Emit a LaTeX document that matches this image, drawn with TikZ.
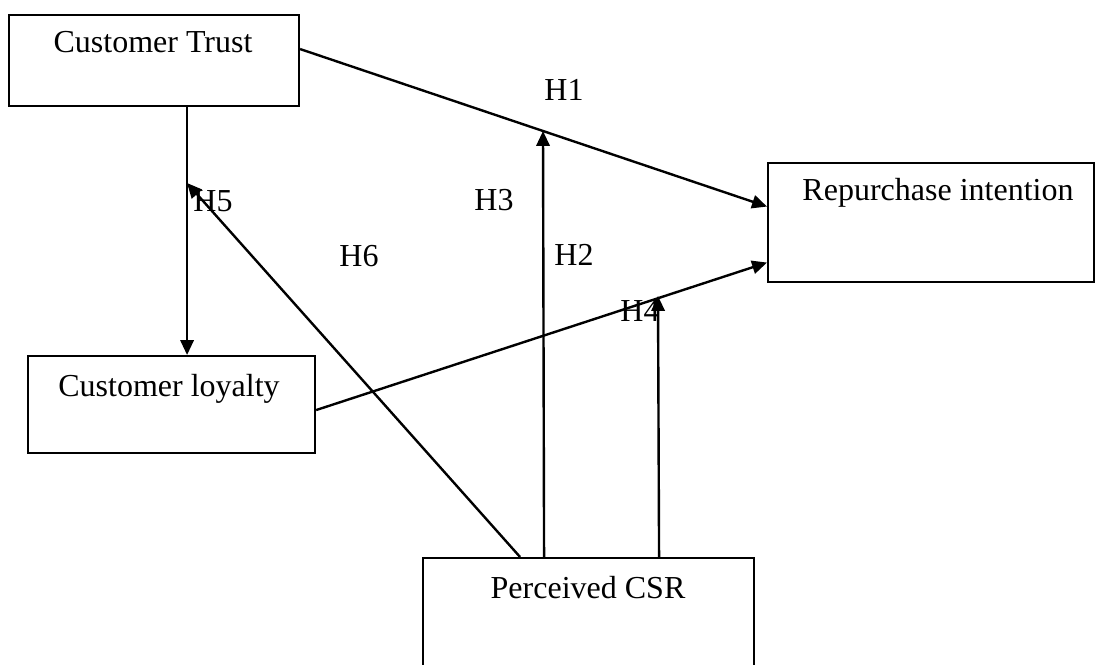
\documentclass[tikz,border=0pt]{standalone}
\usepackage{fontspec}
\setmainfont{Liberation Serif}
\usetikzlibrary{arrows.meta}
\begin{document}
\begin{tikzpicture}[x=0.375pt,y=-0.375pt,
  box/.style={draw,line width=0.8pt,rectangle,inner sep=0pt,anchor=north west},
  txt/.style={anchor=base,inner sep=0pt,font=\fontsize{12pt}{14pt}\selectfont},
  arr/.style={line width=0.9pt,-{Triangle[length=5.6pt,width=5pt]}},
  ln/.style={line width=0.9pt}]
\useasboundingbox (0,0) rectangle (1095,665);
\clip (0,0) rectangle (1095,665);
% boxes
\node[box,minimum width=290*0.375pt,minimum height=91*0.375pt] (trust) at (8,14) {};
\node[box,minimum width=287*0.375pt,minimum height=97*0.375pt] (loyal) at (27,355) {};
\node[box,minimum width=326*0.375pt,minimum height=119*0.375pt] (rep) at (767,162) {};
\node[box,minimum width=331*0.375pt,minimum height=130*0.375pt] (csr) at (422,557) {};
% box texts
\node[txt] (trustT) at (153,53) {Customer Trust};
\node[txt] (loyalT) at (169,397) {Customer loyalty};
\node[txt] (repT) at (938,201) {Repurchase intention};
\node[txt] (csrT) at (588,598) {Perceived CSR};
% tips on lines
\coordinate (h2tip) at (543,131);
\coordinate (h4tip) at (658,296);
\coordinate (h6tip) at (187,183);
% connectors
\draw[arr] ([shift={(0,-11.5)}]trust.east) -- ([shift={(0,-16)}]rep.west);
\draw[arr] ([shift={(33,0)}]trust.south) -- ([shift={(15.5,0)}]loyal.north);
\draw[arr] ([shift={(0,5.5)}]loyal.east) -- ([shift={(0,40)}]rep.west);
\draw[arr] ([shift={(-44.5,0)}]csr.north) -- (h2tip);
\draw[arr] ([shift={(70.5,0)}]csr.north) -- (h4tip);
\draw[arr] ([shift={(-68.5,0)}]csr.north) -- (h6tip);
% labels
\node[txt] (H1) at (564,101) {H1};
\node[txt] (H3) at (494,211) {H3};
\node[txt] (H5) at (213,212) {H5};
\node[txt] (H6) at (359,267) {H6};
\node[txt] (H2) at (574,266) {H2};
\node[txt] (H4) at (640,322) {H4};
\end{tikzpicture}
\end{document}
